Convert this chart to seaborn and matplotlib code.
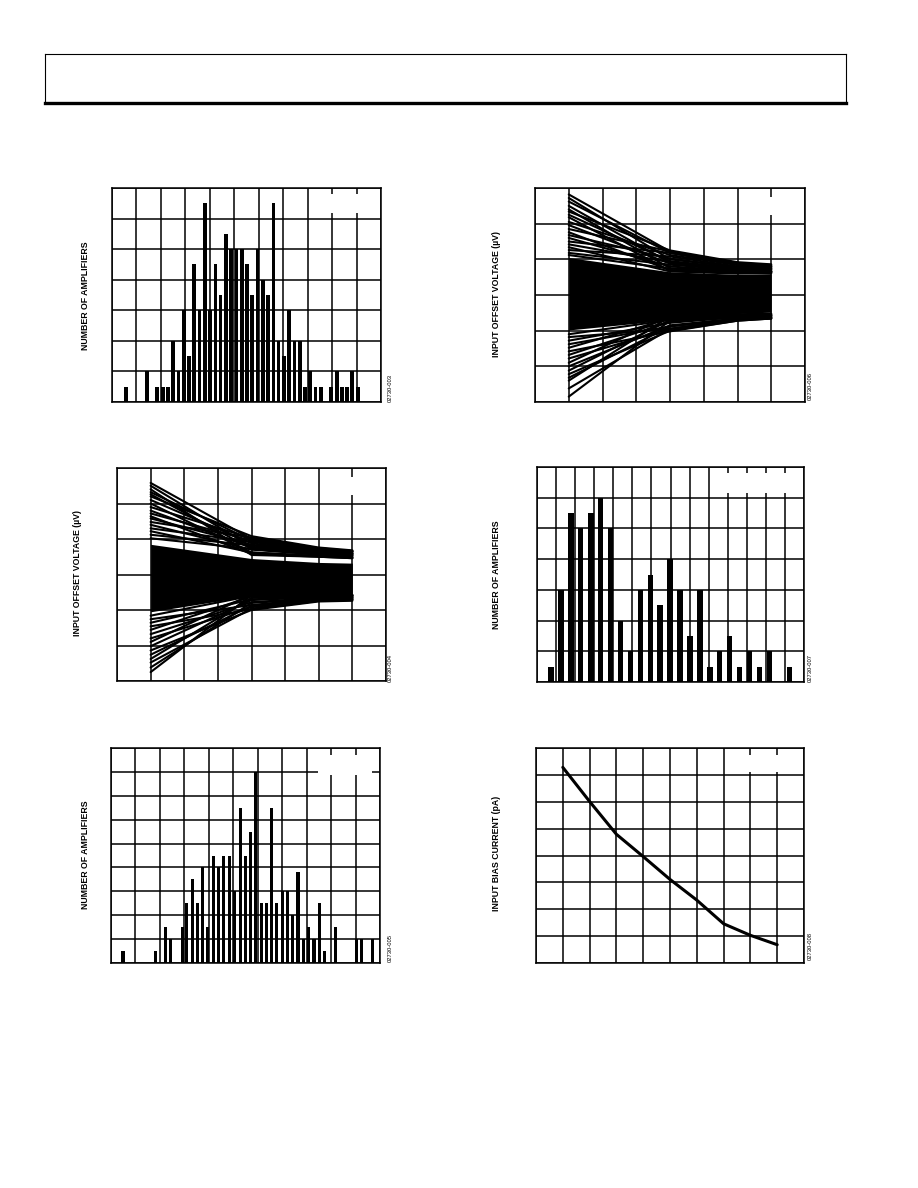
import numpy as np
import pandas as pd
import matplotlib.pyplot as plt
from matplotlib.patches import Rectangle
import seaborn as sns

sns.set_theme(style="white")
plt.rcParams['font.family'] = ['Liberation Sans', 'DejaVu Sans']
plt.rcParams['text.color'] = 'black'

W, H = 918, 1188

# --- Data (x in grid divisions) ---
# Fig 3: offset voltage distribution
fig3_bins = [0.56, 1.42, 1.85, 2.07, 2.28, 2.50, 2.72, 2.93, 3.15, 3.36,
             3.58, 3.79, 4.01, 4.23, 4.44, 4.66, 4.87, 5.09, 5.30, 5.52,
             5.73, 5.95, 6.17, 6.38, 6.60, 6.81, 7.03, 7.25, 7.46, 7.68,
             7.89, 8.11, 8.32, 8.54, 8.97, 9.19, 9.40, 9.62, 9.83, 10.05]
fig3_counts = [5, 10, 5, 5, 5, 20, 10, 30, 15, 45,
               30, 65, 30, 45, 35, 55, 50, 50, 50, 45,
               35, 50, 40, 35, 65, 20, 15, 30, 20, 20,
               5, 10, 5, 5, 5, 10, 5, 5, 10, 5]

# Fig 7: TCVos distribution
fig7_bins = [0.73, 1.25, 1.77, 2.29, 2.82, 3.34, 3.86, 4.38, 4.90, 5.42,
             5.94, 6.46, 6.98, 7.50, 8.02, 8.54, 9.06, 9.58, 10.10, 10.62,
             11.14, 11.66, 12.19, 13.23]
fig7_counts = [5, 30, 55, 50, 55, 60, 50, 20, 10, 30,
               35, 25, 40, 30, 15, 30, 5, 10, 15, 5,
               10, 5, 10, 5]

# Fig 5: offset voltage distribution
fig5_bins = [0.49, 1.81, 2.23, 2.44, 2.91, 3.10, 3.34, 3.54, 3.74, 3.95,
             4.19, 4.40, 4.61, 4.85, 5.05, 5.28, 5.50, 5.70, 5.92, 6.15,
             6.36, 6.56, 6.78, 7.01, 7.23, 7.43, 7.65, 7.87, 8.06, 8.30,
             8.52, 8.73, 9.18, 10.05, 10.25, 10.69]
fig5_counts = [5, 5, 15, 10, 15, 25, 35, 25, 40, 15,
               45, 40, 45, 45, 30, 65, 45, 55, 80, 25,
               25, 65, 25, 30, 30, 20, 38, 10, 15, 10,
               25, 5, 15, 10, 10, 10]

# Fig 6 / Fig 4: offset voltage traces (uV) at 4 sweep points
trace_x = [1, 4, 6, 7]

fig6_core_hi = [105, 65, 58, 60]
fig6_core_lo = [-98, -70, -52, -48]
fig6_traces = [
    (282, 122, 90, 84), (272, 100, 78, 75), (262, 118, 85, 80),
    (240, 75, 68, 66), (234, 125, 92, 86), (225, 95, 75, 72),
    (218, 68, 62, 64), (205, 112, 84, 78), (196, 88, 70, 66),
    (185, 122, 88, 82), (176, 70, 64, 62), (168, 102, 78, 74),
    (160, 80, 68, 66), (150, 118, 86, 80), (142, 92, 72, 70),
    (134, 66, 60, 62), (126, 108, 80, 76), (118, 85, 70, 66),
    (112, 74, 65, 62), (250, 90, 72, 70),
    (-285, -72, -62, -60), (-262, -95, -70, -64), (-240, -60, -56, -54),
    (-232, -88, -68, -66), (-222, -100, -72, -66), (-212, -70, -60, -58),
    (-200, -85, -66, -62), (-190, -58, -54, -52), (-178, -95, -70, -64),
    (-168, -75, -62, -58), (-158, -102, -72, -66), (-148, -66, -58, -55),
    (-138, -88, -66, -62), (-128, -78, -62, -58), (-118, -95, -68, -62),
    (-110, -70, -60, -56),
]

fig4_core_hi = [85, 45, 34, 32]
fig4_core_lo = [-105, -60, -56, -58]
fig4_traces = [
    (258, 100, 72, 66), (250, 78, 62, 60), (240, 55, 50, 46),
    (232, 96, 70, 64), (226, 72, 60, 56), (220, 108, 76, 68),
    (210, 88, 64, 60), (200, 62, 52, 48), (190, 102, 72, 66),
    (180, 76, 58, 54), (172, 95, 70, 64), (164, 58, 50, 46),
    (158, 84, 62, 58), (148, 104, 74, 66), (140, 70, 56, 52),
    (130, 92, 66, 60), (122, 62, 52, 48), (112, 82, 60, 56),
    (102, 72, 56, 52),
    (-275, -58, -62, -64), (-262, -80, -68, -70), (-248, -96, -74, -72),
    (-238, -66, -60, -60), (-226, -88, -70, -68), (-214, -100, -76, -74),
    (-202, -72, -64, -62), (-190, -56, -58, -58), (-180, -92, -72, -68),
    (-168, -78, -66, -64), (-156, -62, -60, -58), (-146, -98, -74, -70),
    (-136, -70, -62, -60), (-126, -86, -68, -64), (-116, -60, -58, -58),
]

# Fig 8: input bias current
fig8_x = [1, 2, 3, 4, 5, 6, 7, 8, 9]
fig8_y = [7.28, 6.01, 4.79, 3.96, 3.11, 2.34, 1.46, 1.03, 0.68]

fig = plt.figure(figsize=(W / 100, H / 100), dpi=100)


def px_axes(left, top, right, bottom):
    return fig.add_axes([left / W, 1 - bottom / H, (right - left) / W, (bottom - top) / H])


def grid_frame(ax, xmax, nx, ymin, ymax, ny):
    ax.set_xlim(0, xmax)
    ax.set_ylim(ymin, ymax)
    ax.set_xticks(np.linspace(0, xmax, nx + 1))
    ax.set_yticks(np.linspace(ymin, ymax, ny + 1))
    ax.grid(True, color='black', lw=1.1)
    ax.set_axisbelow(True)
    ax.tick_params(length=0, labelbottom=False, labelleft=False)
    for s in ax.spines.values():
        s.set_visible(True)
        s.set_color('black')
        s.set_linewidth(1.1)
    ax.set_xlabel('')
    ax.set_ylabel('')


def blank_legend(ax, x0, x1, y0, y1):
    ax.add_patch(Rectangle((x0, y0), x1 - x0, y1 - y0, facecolor='white',
                           edgecolor='none', zorder=1))


def hist_bars(ax, bins, counts, bar_w):
    step = np.min(np.diff(sorted(bins)))
    sns.barplot(x=bins, y=counts, native_scale=True, color='black', saturation=1,
                width=bar_w / step, errorbar=None, linewidth=0, ax=ax)


def trace_panel(ax, core_lo, core_hi, traces):
    ax.fill_between(trace_x, core_lo, core_hi, color='black', lw=0, zorder=2)
    rows = [(i, x, y) for i, tr in enumerate(traces) for x, y in zip(trace_x, tr)]
    df = pd.DataFrame(rows, columns=['trace', 'x', 'y'])
    sns.lineplot(data=df, x='x', y='y', units='trace', estimator=None,
                 color='black', lw=1.5, legend=False, ax=ax, zorder=3)


def label(x, y, text):
    fig.text(x / W, 1 - y / H, text, rotation=90, ha='center', va='center',
             fontsize=6.3, fontweight='bold', color='black')


def fig_id(x, y, text):
    fig.text(x / W, 1 - y / H, text, rotation=90, ha='center', va='center',
             fontsize=4.2, color='black')


# --- Header box ---
hdr = px_axes(45, 54, 846, 103)
hdr.set_xticks([])
hdr.set_yticks([])
for name, s in hdr.spines.items():
    s.set_color('black')
    s.set_linewidth(2.4 if name == 'bottom' else 0.8)

# --- Panel 1: histogram ---
ax1 = px_axes(112, 188, 381, 402)
hist_bars(ax1, fig3_bins, fig3_counts, 0.155)
grid_frame(ax1, 11, 11, 0, 70, 7)
blank_legend(ax1, 8.78, 10.75, 61.8, 68.2)
label(85, 296, 'NUMBER OF AMPLIFIERS')
fig_id(390, 388, '02730-003')

# --- Panel 2: offset traces ---
ax2 = px_axes(535, 188, 805, 402)
trace_panel(ax2, fig6_core_lo, fig6_core_hi, fig6_traces)
grid_frame(ax2, 8, 8, -300, 300, 6)
blank_legend(ax2, 6.6, 7.6, 225, 276)
label(496, 294, 'INPUT OFFSET VOLTAGE (µV)')
fig_id(810, 386, '02730-006')

# --- Panel 3: offset traces ---
ax3 = px_axes(117, 468, 386, 681)
trace_panel(ax3, fig4_core_lo, fig4_core_hi, fig4_traces)
grid_frame(ax3, 8, 8, -300, 300, 6)
blank_legend(ax3, 6.6, 7.6, 225, 276)
label(77, 573, 'INPUT OFFSET VOLTAGE (µV)')
fig_id(390, 668, '02730-004')

# --- Panel 4: histogram ---
ax4 = px_axes(537, 467, 804, 682)
hist_bars(ax4, fig7_bins, fig7_counts, 0.29)
grid_frame(ax4, 14, 14, 0, 70, 7)
blank_legend(ax4, 9.77, 13.8, 61.5, 68.0)
label(496, 575, 'NUMBER OF AMPLIFIERS')
fig_id(810, 668, '02730-007')

# --- Panel 5: histogram ---
ax5 = px_axes(111, 748, 380, 963)
hist_bars(ax5, fig5_bins, fig5_counts, 0.13)
grid_frame(ax5, 11, 11, 0, 90, 9)
blank_legend(ax5, 8.48, 10.66, 78.6, 87.2)
label(85, 855, 'NUMBER OF AMPLIFIERS')
fig_id(390, 948, '02730-005')

# --- Panel 6: bias current curve ---
ax6 = px_axes(536, 748, 804, 963)
sns.lineplot(x=fig8_x, y=fig8_y, color='black', lw=2.2, ax=ax6)
grid_frame(ax6, 10, 10, 0, 8, 8)
blank_legend(ax6, 7.7, 9.7, 7.1, 7.75)
label(496, 853, 'INPUT BIAS CURRENT (pA)')
fig_id(810, 946, '02730-008')

fig.savefig('out.png', dpi=100, facecolor='white')
